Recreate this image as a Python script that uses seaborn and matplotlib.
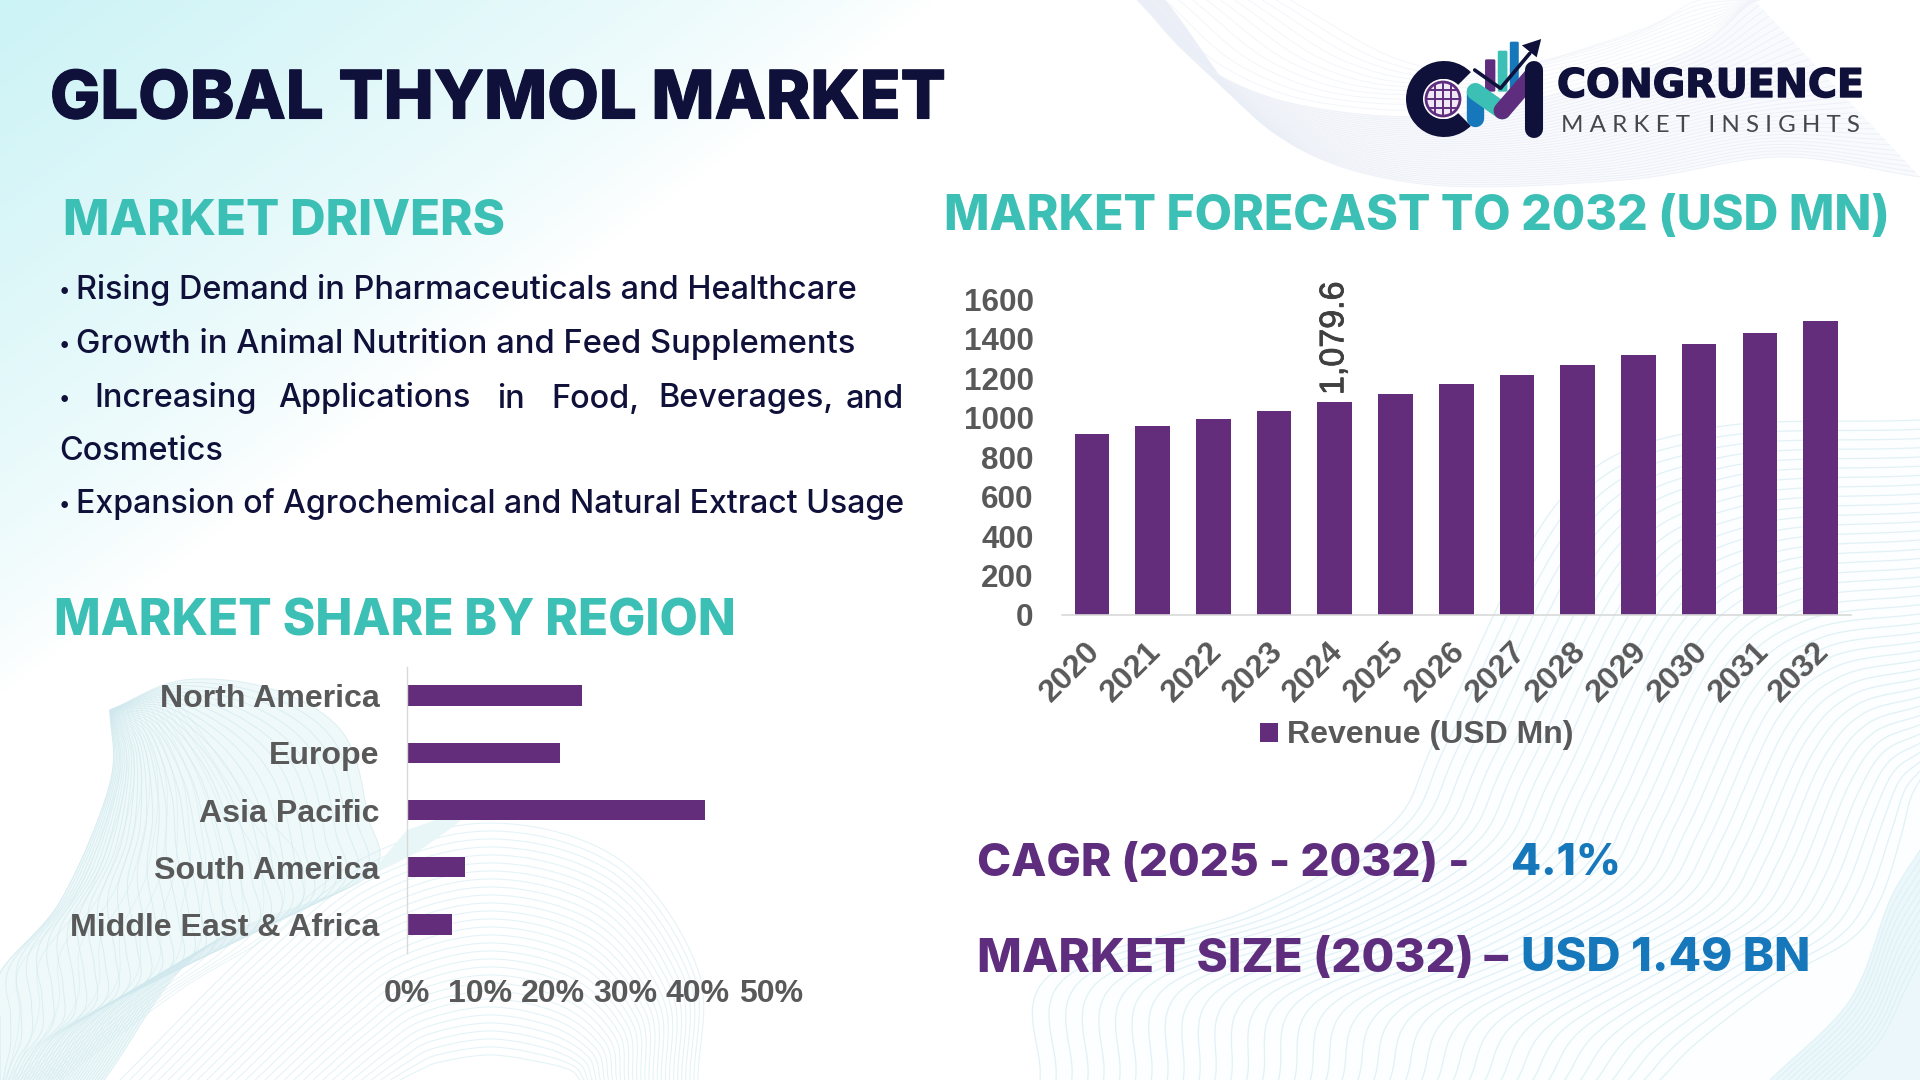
import numpy as np
import matplotlib
matplotlib.use("Agg")
import matplotlib.pyplot as plt
import matplotlib.patheffects as pe
from matplotlib.collections import LineCollection
from matplotlib.patches import Circle, Wedge, Polygon, FancyBboxPatch
from matplotlib.transforms import ScaledTranslation
import seaborn as sns

# ---- data ----
years = ["2020", "2021", "2022", "2023", "2024", "2025", "2026", "2027", "2028", "2029", "2030", "2031", "2032"]
revenue = [918, 958, 994, 1034, 1079.6, 1120, 1171, 1217, 1267, 1318, 1374, 1430, 1490]
revenue_labels = ["", "", "", "", "1,079.6", "", "", "", "", "", "", "", ""]
revenue_ticks = [0, 200, 400, 600, 800, 1000, 1200, 1400, 1600]
regions = ["North America", "Europe", "Asia Pacific", "South America", "Middle East & Africa"]
region_share = [24, 21, 41, 8, 6.2]
share_ticks = [0, 10, 20, 30, 40, 50]
share_labels = ["0%", "10%", "20%", "30%", "40%", "50%"]

W, H = 1920, 1080
NAVY, TEAL, PURPLE, BLUE, GREY, BAR = "#10113a", "#3cbfb4", "#5f2d7e", "#1677bb", "#595959", "#642d7c"

sns.set_theme(style="white")
plt.rcParams["font.family"] = ["Liberation Sans", "DejaVu Sans"]
fig = plt.figure(figsize=(W / 100, H / 100), dpi=100, facecolor="white")


def px_axes(l, t, r, b, **kw):
    return fig.add_axes([l / W, 1 - b / H, (r - l) / W, (b - t) / H], **kw)


bg = px_axes(0, 0, W, H)
bg.set_xlim(0, W)
bg.set_ylim(H, 0)
bg.axis("off")

# ---- background wash ----
yy, xx = np.mgrid[0:H:4, 0:W:4]
t = np.clip(xx / 930 + yy / 690, 0, 1)
alpha = (1 - t) ** 0.75
wash = np.ones(xx.shape + (4,))
wash[..., 0], wash[..., 1], wash[..., 2] = 0.80, 0.955, 0.965
wash[..., 3] = alpha
bg.imshow(wash, extent=(0, W, H, 0), aspect="auto", zorder=0, interpolation="bilinear")
bg.set_xlim(0, W)
bg.set_ylim(H, 0)


def smooth(pts, total=200):
    """Catmull-Rom curve through decorative guide points, resampled to a fixed length."""
    p = np.array(pts, float)
    p = np.vstack([2 * p[0] - p[1], p, 2 * p[-1] - p[-2]])
    out = []
    u = np.linspace(0, 1, 24, endpoint=False)[:, None]
    for i in range(1, len(p) - 2):
        a, b, c, d = p[i - 1], p[i], p[i + 1], p[i + 2]
        out.append(0.5 * (2 * b + (c - a) * u + (2 * a - 5 * b + 4 * c - d) * u ** 2 + (3 * b - a - 3 * c + d) * u ** 3))
    out.append(p[-2][None, :])
    c = np.vstack(out)
    s = np.linspace(0, 1, len(c))
    g = np.linspace(0, 1, total)
    return np.column_stack([np.interp(g, s, c[:, 0]), np.interp(g, s, c[:, 1])])


def family(a, b, count, color, lw=0.8, al=0.8, z=1):
    a, b = smooth(a), smooth(b)
    lines = [a * (1 - s) + b * s for s in np.linspace(0, 1, count)]
    bg.add_collection(LineCollection(lines, colors=color, linewidths=lw, alpha=al, zorder=z))


def area(a, b, color, z=1, al=1.0):
    a, b = smooth(a), smooth(b)
    bg.add_patch(Polygon(np.vstack([a, b[::-1]]), closed=True, fc=color, ec="none", alpha=al, zorder=z))


# top-right ribbon
tr_a = [(1137, 0), (1205, 67), (1309, 107), (1466, 113), (1675, 57), (1754, 0)]
tr_b = [(1165, 0), (1270, 130), (1414, 183), (1623, 180), (1780, 157), (1920, 177)]
area(tr_a, tr_b, "#f9fafd")
family(tr_a, tr_b, 34, "#eaeef6", 0.7, 0.8)
tr_c = [(1290, 0), (1400, 60), (1500, 70), (1640, 30), (1700, 0), (1760, 0)]
family(tr_a, tr_c, 12, "#f0f3f9", 0.7, 0.8)

# bottom-right waves
br_a = [(1040, 1080), (1050, 975), (1250, 910), (1389, 827), (1440, 730), (1560, 500), (1700, 430), (1920, 420)]
br_b = [(1660, 1080), (1700, 1040), (1780, 980), (1850, 940), (1880, 900), (1900, 840), (1910, 800), (1920, 780)]
area(br_a, [(1040, 1080), (1920, 1080), (1920, 420)], "#fcfeff")
family(br_a, br_b, 40, "#cfe9f0", 0.9, 0.6)
area([(1770, 1080), (1850, 1000), (1890, 900), (1920, 850)], [(1920, 1080), (1920, 1080), (1920, 1080), (1920, 1080)], "#ebf7fa")
family([(1770, 1080), (1850, 1000), (1890, 900), (1920, 850)], [(1840, 1080), (1880, 1040), (1905, 990), (1920, 960)], 12, "#d8eff3", 0.7, 0.8)

# bottom-left ribbon
bl_a = [(110, 710), (184, 680), (275, 690), (343, 733), (367, 813), (367, 877), (202, 950), (104, 1080)]
bl_b = [(110, 710), (110, 783), (61, 900), (0, 973), (0, 1020), (0, 1050), (0, 1070), (0, 1080)]
area(bl_a, bl_b, "#eff9fa")
family(bl_a, bl_b, 36, "#cfe8ee", 0.7, 0.65)
bl_c = [(170, 690), (250, 800), (300, 860), (290, 920), (180, 990), (60, 1080)]
family(bl_b, bl_c, 16, "#d5ebf0", 0.6, 0.6)

# bottom-left arches
arch_a = [(120, 1080), (250, 950), (360, 860), (490, 823), (620, 860), (698, 970), (698, 1080)]
arch_b = [(400, 1080), (420, 1070), (440, 1062), (490, 1055), (540, 1062), (570, 1070), (580, 1080)]
family(arch_a, arch_b, 30, "#d4ecf1", 0.8, 0.6)
bg.add_patch(Polygon(smooth([(367, 877), (420, 850), (470, 810), (407, 830)]), fc="#e9f6f8", ec="none", zorder=1))

# ---- texts ----
rend = fig.canvas.get_renderer()


def fit(s, x0, x1, base, color, family_name, weight="bold", thick=0):
    tx = bg.text(x0, base, s, color=color, family=family_name, weight=weight, size=20, va="baseline", ha="left", zorder=6)
    w = tx.get_window_extent(rend).width
    tx.set_size(20 * (x1 - x0) / w)
    if thick:
        tx.set_path_effects([pe.withStroke(linewidth=thick, foreground=color)])
    return tx


fit("GLOBAL THYMOL MARKET", 50, 948, 118.5, NAVY, "Inter", 800, 0.8)
fit("MARKET DRIVERS", 63, 506, 235, TEAL, "Inter", 800)
fit("MARKET FORECAST TO 2032 (USD MN)", 944, 1892, 230, TEAL, "Inter", 800)
fit("MARKET SHARE BY REGION", 54, 738, 636, TEAL, "Inter", 800)
fit("CAGR (2025 - 2032) -", 977, 1471, 876, PURPLE, "Inter", 800)
fit("4.1%", 1511, 1621, 875, BLUE, "Inter", 800)
fit("MARKET SIZE (2032) –", 977, 1509, 972, PURPLE, "Inter", 800)
fit("USD 1.49 BN", 1521, 1811, 971, BLUE, "Inter", 800)

first = fit("Rising Demand in Pharmaceuticals and Healthcare", 76, 855, 299.5, NAVY, "Inter", "medium")
body = first.get_size()
fit("Growth in Animal Nutrition and Feed Supplements", 76, 855, 353.5, NAVY, "Inter", "medium")
fit("Expansion of Agrochemical and Natural Extract Usage", 76, 903, 513.5, NAVY, "Inter", "medium")
for base in (299.5, 353.5, 407.5, 513.5):
    bg.text(59, base - 2, "•", color=NAVY, family="Inter", weight="medium", size=body * 0.65, va="baseline", zorder=6)
for word, x in [("Increasing", 94), ("Applications", 278), ("in", 497), ("Food,", 551), ("Beverages,", 658), ("and", 846)]:
    bg.text(x, 407.5, word, color=NAVY, family="Inter", weight="medium", size=body, va="baseline", zorder=6)
bg.text(59, 460.5, "Cosmetics", color=NAVY, family="Inter", weight="medium", size=body, va="baseline", zorder=6)

# ---- revenue chart ----
ax = px_axes(1061.5, 299.3, 1851, 615, facecolor="none", zorder=3)
sns.barplot(x=years, y=revenue, color=BAR, saturation=1, width=0.57, linewidth=0, ax=ax, label="Revenue (USD Mn)")
ax.set_xlim(-0.5, 12.5)
ax.set_ylim(0, 1600)
ax.set_yticks(revenue_ticks)
ax.set(xlabel="", ylabel="")
sns.despine(ax=ax, left=True)
ax.spines["bottom"].set_color("#d9d9d9")
ax.spines["bottom"].set_linewidth(1.2)
ax.tick_params(axis="y", length=0, pad=20, labelsize=22.6, labelcolor=GREY)
ax.tick_params(axis="x", length=0, pad=23, labelsize=23, labelcolor=GREY)
for lab in ax.get_yticklabels():
    lab.set_fontweight("bold")
shift = ScaledTranslation(3 / 72, 0, fig.dpi_scale_trans)
for lab in ax.get_xticklabels():
    lab.set_fontweight("bold")
    lab.set_rotation(45)
    lab.set_ha("right")
    lab.set_va("center")
    lab.set_rotation_mode("anchor")
    lab.set_transform(lab.get_transform() + shift)
for tx in ax.bar_label(ax.containers[0], labels=revenue_labels, rotation=90, padding=5, fontsize=24.5, color="#404040", clip_on=False):
    tx.set_path_effects([pe.withStroke(linewidth=0.6, foreground="#404040")])
leg = ax.legend(loc="center", bbox_to_anchor=(1417 / W, 1 - 735.5 / H), bbox_transform=fig.transFigure, frameon=False,
                fontsize=23, handlelength=0.55, handleheight=0.55, handletextpad=0.3, borderpad=0)
for tx in leg.get_texts():
    tx.set_color(GREY)
    tx.set_fontweight("bold")

# ---- region chart ----
ax2 = px_axes(407.3, 667, 770.6, 953, facecolor="none", zorder=3)
sns.barplot(y=regions, x=region_share, orient="h", color=BAR, saturation=1, width=0.36, linewidth=0, ax=ax2)
ax2.set_xlim(0, 50)
ax2.set_ylim(4.5, -0.5)
ax2.set_xticks(share_ticks, share_labels)
ax2.set(xlabel="", ylabel="")
sns.despine(ax=ax2, bottom=True)
ax2.spines["left"].set_color("#d9d9d9")
ax2.spines["left"].set_linewidth(1.0)
ax2.tick_params(axis="y", length=0, pad=20, labelsize=23.1, labelcolor=GREY)
ax2.tick_params(axis="x", length=0, pad=19, labelsize=23, labelcolor=GREY)
for lab in ax2.get_yticklabels() + ax2.get_xticklabels():
    lab.set_fontweight("bold")

# ---- logo ----
def lx(p):
    return 1380 + p / 2.904


def ly(p):
    return 20 + p / 3


def stroke(p0, p1, color, w, z=5):
    bg.plot([lx(p0[0]), lx(p1[0])], [ly(p0[1]), ly(p1[1])], color=color, lw=w, solid_capstyle="round", zorder=z)


for xa, xb, top, col in [(305, 335, 118, PURPLE), (342, 370, 92, TEAL), (377, 403, 65, BLUE)]:
    bg.add_patch(FancyBboxPatch((lx(xa), ly(top)), lx(xb) - lx(xa), ly(215) - ly(top), boxstyle="round,pad=0,rounding_size=1.5",
                                fc=col, ec="none", zorder=4))
bg.add_patch(Wedge((1444, 99), 38, 45, 315, width=18, fc=NAVY, ec="none", zorder=5))
bg.add_patch(Circle((1443, 99), 20, fc="white", ec="none", zorder=5))
globe = Circle((1443, 99), 17, fc="#f1e8f6", ec=PURPLE, lw=2, zorder=5)
bg.add_patch(globe)
for dy in (-9, 0, 9):
    half = np.sqrt(17 ** 2 - dy ** 2)
    bg.plot([1443 - half, 1443 + half], [99 + dy, 99 + dy], color=PURPLE, lw=1.4, zorder=5)
for dx in (-8, 0, 8):
    half = np.sqrt(17 ** 2 - dx ** 2)
    bg.plot([1443 + dx, 1443 + dx], [99 - half, 99 + half], color=PURPLE, lw=1.4, zorder=5)
stroke((277, 215), (277, 295), BLUE, 12.5)
stroke((277, 215), (355, 272), TEAL, 12.5, 6)
stroke((355, 272), (440, 170), PURPLE, 12.5, 6)
stroke((447, 150), (447, 328), NAVY, 13, 7)
bg.plot([lx(275), lx(350), lx(435)], [ly(150), ly(205), ly(100)], color=NAVY, lw=2.6, zorder=8)
bg.add_patch(Polygon([(lx(468), ly(57)), (lx(412), ly(76)), (lx(455), ly(112))], fc=NAVY, ec="none", zorder=8))
fit("CONGRUENCE", 1557, 1863, 97, NAVY, "DejaVu Sans", "bold", 1.0)
fit("M A R K E T   I N S I G H T S", 1561, 1860, 132, "#45474d", "Lato", "normal")

fig.savefig("out.png", dpi=100, facecolor="white")
